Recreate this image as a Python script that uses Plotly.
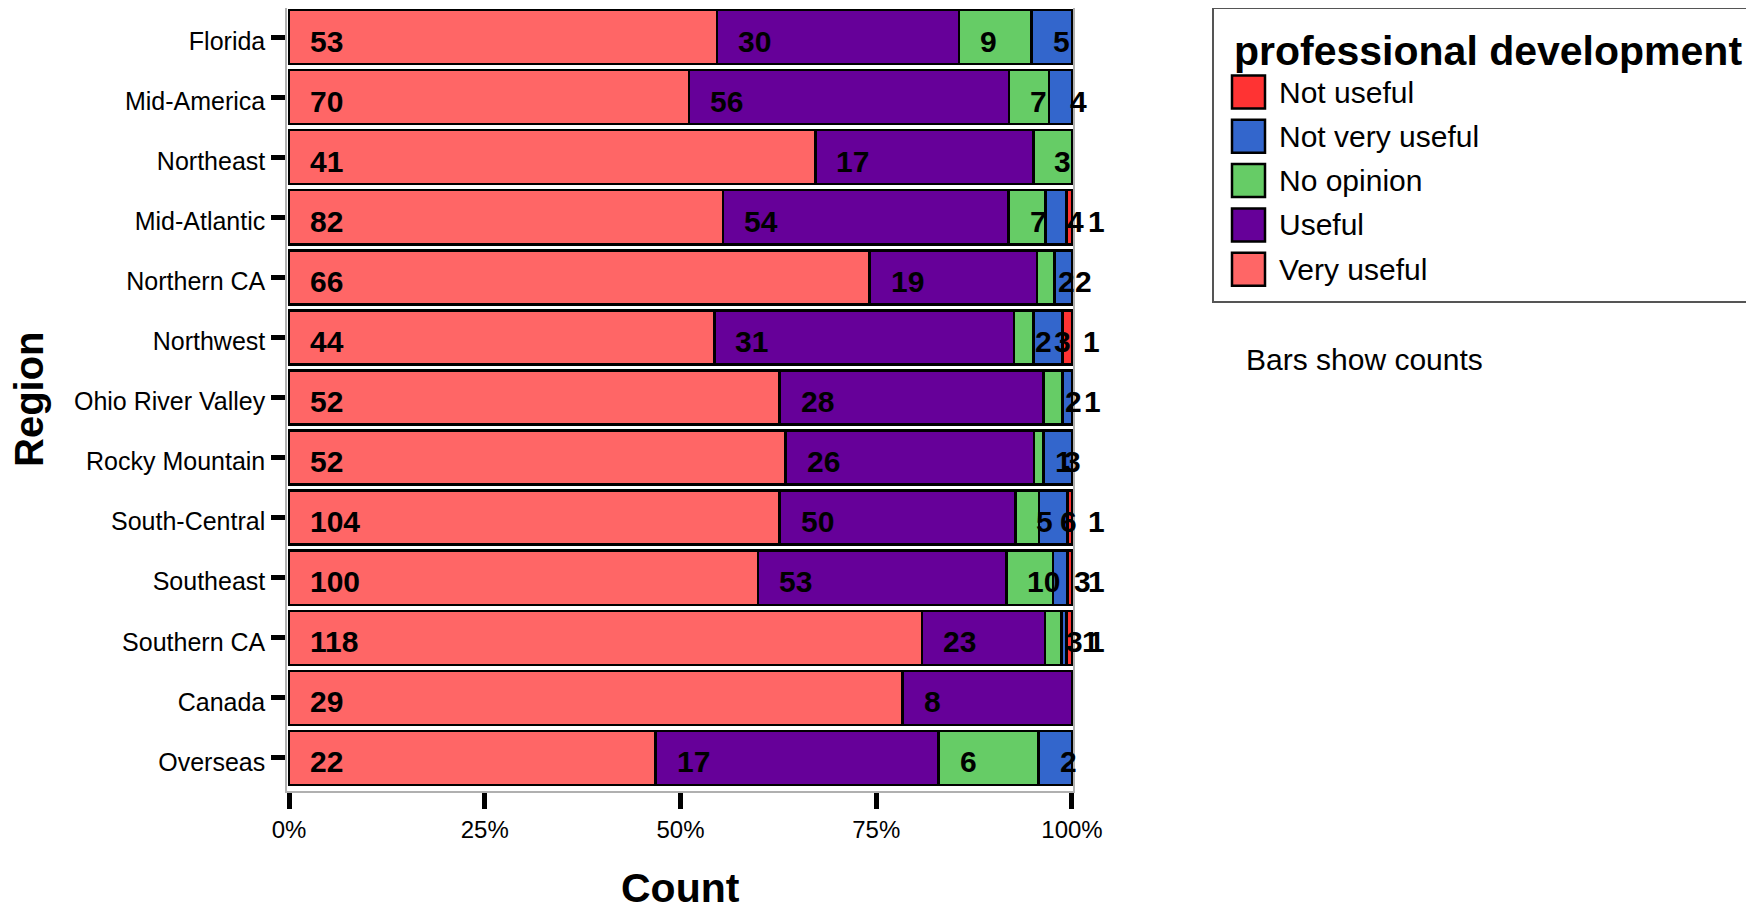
import plotly.graph_objects as go

categories = ["Florida", "Mid-America", "Northeast", "Mid-Atlantic", "Northern CA",
              "Northwest", "Ohio River Valley", "Rocky Mountain", "South-Central",
              "Southeast", "Southern CA", "Canada", "Overseas"]

very_useful = [53, 70, 41, 82, 66, 44, 52, 52, 104, 100, 118, 29, 22]
useful = [30, 56, 17, 54, 19, 31, 28, 26, 50, 53, 23, 8, 17]
no_opinion = [9, 7, 3, 7, 2, 2, 2, 1, 5, 10, 3, None, 6]
not_very_useful = [5, 4, None, 4, 2, 3, 1, 3, 6, 3, 1, None, 2]
not_useful = [None, None, None, 1, None, 1, None, None, 1, 1, 1, None, None]

levels = ["Very useful", "Useful", "No opinion", "Not very useful", "Not useful"]
series = [very_useful, useful, no_opinion, not_very_useful, not_useful]
colors = ["#FF6666", "#660099", "#66CC66", "#3366CC", "#FF3333"]

xtick_vals = [0, 0.25, 0.5, 0.75, 1.0]
xtick_text = ["0%", "25%", "50%", "75%", "100%"]

FONT = "Liberation Sans, Arial, Helvetica, sans-serif"
OFF = 8  # page body margin offset
W, H = 1754 - OFF, 914 - OFF
ML = 287 - OFF
MR = W - (1073 - OFF)
MT = 0
MB = H - (791 - OFF)
PW, PH = W - ML - MR, H - MT - MB


def px(x):
    return (x - OFF - ML) / PW


def py(y):
    return (H - MB - (y - OFF)) / PH


fig = go.Figure()
for name, vals, col in zip(levels, series, colors):
    fig.add_trace(go.Bar(
        y=categories, x=vals, name=name, orientation="h",
        marker=dict(color=col, line=dict(color="black", width=2.5)),
        showlegend=False, hoverinfo="x+y+name",
    ))

annotations = []
for i, cat in enumerate(categories):
    vals = [s[i] for s in series]
    total = sum(v for v in vals if v)
    cum = 0
    for v in vals:
        if v:
            annotations.append(dict(
                x=cum / total, y=cat, xref="x", yref="y", text=f"<b>{v}</b>",
                showarrow=False, xanchor="left", yanchor="middle", xshift=19, yshift=-4,
                font=dict(family=FONT, size=30, color="black")))
            cum += v

# axis titles
annotations.append(dict(x=px(29), y=py(399), xref="paper", yref="paper",
                        text="<b>Region</b>", textangle=-90, showarrow=False,
                        xanchor="center", yanchor="middle",
                        font=dict(family=FONT, size=40, color="black")))
annotations.append(dict(x=px(680), y=py(913), xref="paper", yref="paper",
                        text="<b>Count</b>", showarrow=False,
                        xanchor="center", yanchor="bottom",
                        font=dict(family=FONT, size=41, color="black")))

# legend (drawn manually to match large swatches)
shapes = [dict(type="rect", xref="paper", yref="paper", x0=px(1213), x1=px(1753),
               y0=py(302), y1=py(8), line=dict(color="#555555", width=2), fillcolor="white",
               layer="below")]
annotations.append(dict(x=px(1232), y=py(51), xref="paper", yref="paper",
                        text="<b>professional development</b>", showarrow=False,
                        xanchor="left", yanchor="middle",
                        font=dict(family=FONT, size=41, color="black")))
legend_order = list(reversed(range(len(levels))))
for k, idx in enumerate(legend_order):
    cy = 92 + k * 44.3
    shapes.append(dict(type="rect", xref="paper", yref="paper", x0=px(1232), x1=px(1265),
                       y0=py(cy + 16.5), y1=py(cy - 16.5), fillcolor=colors[idx],
                       line=dict(color="black", width=2.5)))
    annotations.append(dict(x=px(1277), y=py(cy), xref="paper", yref="paper",
                            text=levels[idx], showarrow=False, xanchor="left",
                            yanchor="middle",
                            font=dict(family=FONT, size=30, color="black")))
annotations.append(dict(x=px(1244), y=py(359), xref="paper", yref="paper",
                        text="Bars show counts", showarrow=False, xanchor="left",
                        yanchor="middle", font=dict(family=FONT, size=30, color="black")))

fig.update_layout(
    width=W, height=H, barmode="stack", barnorm="fraction", bargap=0.1,
    plot_bgcolor="white", paper_bgcolor="white",
    margin=dict(l=ML, r=MR, t=MT, b=MB, autoexpand=False),
    font=dict(family=FONT, color="black"),
    shapes=shapes, annotations=annotations,
    xaxis=dict(range=[-0.0026, 1.0013], tickvals=xtick_vals, ticktext=xtick_text,
               ticks="outside", ticklen=16, tickwidth=4.5, tickcolor="black",
               showgrid=False, zeroline=False, showline=True, linecolor="#b0b0b0",
               linewidth=1.5, mirror=True, tickfont=dict(size=24, family=FONT)),
    yaxis=dict(categoryorder="array", categoryarray=categories, range=[12.55, -0.483],
               ticks="outside", ticklen=14, tickwidth=5, tickcolor="black",
               ticklabelstandoff=1, ticklabelshift=-4,
               showgrid=False, zeroline=False, showline=True, linecolor="#b0b0b0",
               linewidth=1.5, mirror=True, tickfont=dict(size=25, family=FONT)),
)

fig.write_html("out.html")
